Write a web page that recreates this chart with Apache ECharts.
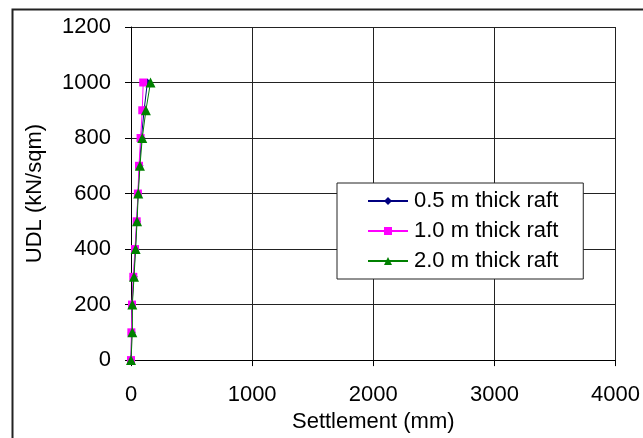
<!DOCTYPE html>
<html>
<head>
<meta charset="utf-8">
<script src="https://cdn.jsdelivr.net/npm/echarts@6/dist/echarts.min.js"></script>
<style>
  html, body { margin: 0; padding: 0; background: #fff; }
  #chart { width: 643px; height: 438px; }
</style>
</head>
<body>
<div id="chart"></div>
<script>
// Applied uniformly distributed load (kN/sqm)
const loads = [0, 100, 200, 300, 400, 500, 600, 700, 800, 900, 1000];
// Settlement (mm) for each raft thickness
const settle05 = [0, 6, 9, 22, 36, 48, 58, 70, 86, 108, 135];
const settle10 = [0, 3, 8, 19, 33, 47, 57, 66, 79, 93, 101];
const settle20 = [0, 11, 11, 25, 38, 50, 60, 74, 93, 123, 161];
const seriesNames = ['0.5 m thick raft', '1.0 m thick raft', '2.0 m thick raft'];
const xTicks = [0, 1000, 2000, 3000, 4000];
const yTicks = [0, 200, 400, 600, 800, 1000, 1200];

const pairs = s => s.map((v, i) => [v, loads[i]]);
const font = 'Liberation Sans, Arial, sans-serif';
const plain = v => String(v);

const chart = echarts.init(document.getElementById('chart'), null, { renderer: 'canvas' });
chart.setOption({
  animation: false,
  backgroundColor: '#fff',
  graphic: [{
    type: 'rect',
    left: 10, top: 7,
    shape: { width: 660, height: 460 },
    style: { fill: 'none', stroke: '#222', lineWidth: 2 },
    silent: true, z: -1
  }],
  grid: { left: 131, right: 25, top: 27, bottom: 73, containLabel: false },
  xAxis: {
    type: 'value', min: xTicks[0], max: xTicks[xTicks.length - 1], interval: 1000,
    name: 'Settlement (mm)', nameLocation: 'middle', nameGap: 42,
    nameTextStyle: { fontFamily: font, fontSize: 22, color: '#000' },
    axisLine: { onZero: false, lineStyle: { color: '#000', width: 1 } },
    axisTick: { show: true, inside: false, length: 6, lineStyle: { color: '#000' } },
    axisLabel: { fontFamily: font, fontSize: 22, color: '#000', margin: 24, formatter: plain },
    splitLine: { show: true, lineStyle: { color: '#222', width: 1 } }
  },
  yAxis: {
    type: 'value', min: yTicks[0], max: yTicks[yTicks.length - 1], interval: 200,
    name: 'UDL (kN/sqm)', nameLocation: 'middle', nameGap: 85, nameRotate: 90,
    nameTextStyle: { fontFamily: font, fontSize: 22, color: '#000' },
    axisLine: { show: true, lineStyle: { color: '#000', width: 1 } },
    axisTick: { show: true, inside: false, length: 6, lineStyle: { color: '#000' } },
    axisLabel: { fontFamily: font, fontSize: 22, color: '#000', margin: 20, formatter: plain },
    splitLine: { show: true, lineStyle: { color: '#222', width: 1 } }
  },
  legend: {
    orient: 'vertical',
    left: 337, top: 183,
    padding: [7, 25, 7, 30],
    itemGap: 8,
    itemWidth: 40, itemHeight: 10,
    borderColor: '#222', borderWidth: 1, borderRadius: 0,
    backgroundColor: '#fff',
    textStyle: { fontFamily: font, fontSize: 22, color: '#000', padding: [0, 0, 0, 1] },
    data: seriesNames
  },
  series: [
    {
      name: seriesNames[0], type: 'line', data: pairs(settle05),
      symbol: 'diamond', symbolSize: 8,
      lineStyle: { color: '#000080', width: 1 },
      itemStyle: { color: '#000080' }
    },
    {
      name: seriesNames[1], type: 'line', data: pairs(settle10),
      symbol: 'rect', symbolSize: 8,
      lineStyle: { color: '#ff00ff', width: 1 },
      itemStyle: { color: '#ff00ff' }
    },
    {
      name: seriesNames[2], type: 'line', data: pairs(settle20),
      symbol: 'triangle', symbolSize: 10,
      lineStyle: { color: '#008000', width: 1 },
      itemStyle: { color: '#008000' }
    }
  ]
});
</script>
</body>
</html>
